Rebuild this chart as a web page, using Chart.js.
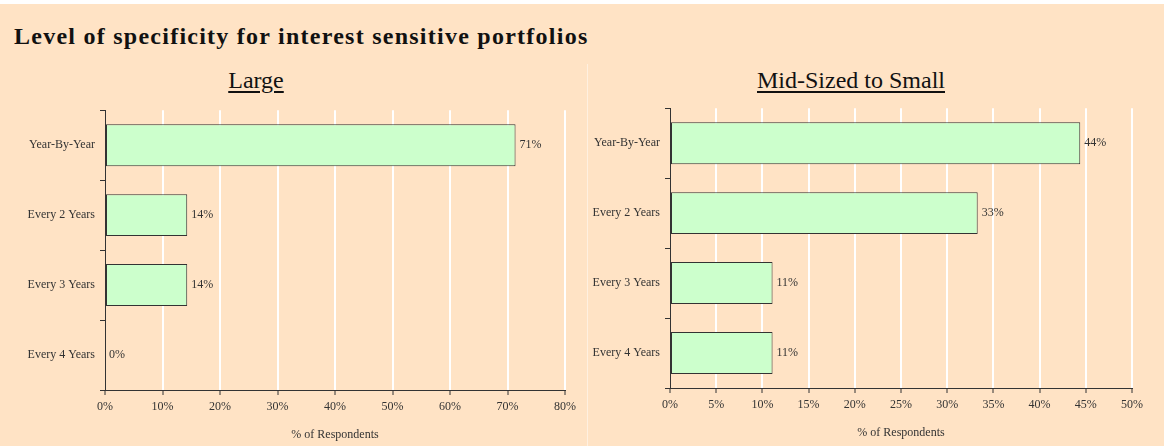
<!DOCTYPE html>
<html>
<head>
<meta charset="utf-8">
<script src="https://cdn.jsdelivr.net/npm/chart.js@4"></script>
<style>
	body { margin: 0; width: 1164px; height: 446px; background: #fff; overflow: hidden; font-family: "Liberation Serif", "DejaVu Serif", serif; }
	#page { position: absolute; left: 0; top: 4px; width: 1164px; height: 442px; background: #ffe3c5; }
	#title { position: absolute; left: 14px; top: 19px; font-size: 24px; letter-spacing: 1.25px; font-weight: bold; color: #111; white-space: nowrap; }
	.sub { position: absolute; top: 63px; font-size: 24px; color: #111; text-decoration: underline; text-underline-offset: 3px; white-space: nowrap; transform: translateX(-50%); }
	#sep { position: absolute; left: 587px; top: 60px; width: 1px; height: 382px; background: #fff0e0; }
	.box { position: absolute; height: 348px; }
</style>
</head>
<body>
<div id="page">
	<div id="title">Level of specificity for interest sensitive portfolios</div>
	<div class="sub" style="left:256px">Large</div>
	<div class="sub" style="left:851px">Mid-Sized to Small</div>
	<div id="sep"></div>
	<div class="box" style="left:0;top:94px;width:587px"><canvas id="large"></canvas></div>
	<div class="box" style="left:588px;top:92px;width:576px"><canvas id="small"></canvas></div>
</div>
<script>
const categories = ["Year-By-Year", "Every 2 Years", "Every 3 Years", "Every 4 Years"];
const largeValues = [71.4, 14.3, 14.3, 0];
const smallValues = [44.4, 33.3, 11.1, 11.1];
const largeTicks = [0, 10, 20, 30, 40, 50, 60, 70, 80];
const smallTicks = [0, 5, 10, 15, 20, 25, 30, 35, 40, 45, 50];

const font = { family: "'Liberation Serif', 'DejaVu Serif', serif", size: 12 };

// labels at the end of each bar
const barLabels = {
	id: "barLabels",
	afterDatasetsDraw(chart) {
		const ctx = chart.ctx;
		const meta = chart.getDatasetMeta(0);
		ctx.save();
		ctx.font = "12px " + font.family;
		ctx.fillStyle = "#333";
		ctx.textBaseline = "middle";
		meta.data.forEach((bar, i) => {
			const v = chart.data.datasets[0].data[i];
			ctx.fillText(Math.round(v) + "%", bar.x + 4, bar.y);
		});
		ctx.restore();
	}
};

const makeChart = (id, values, ticks, max, yWidth, padRight) => {
	return new Chart(document.getElementById(id), {
		type: "bar",
		data: {
			labels: categories,
			datasets: [{
				data: values,
				backgroundColor: "#ccffcc",
				borderColor: "#333",
				borderWidth: 1,
				borderSkipped: false,
				barPercentage: 0.6,
				categoryPercentage: 1,
			}],
		},
		options: {
			indexAxis: "y",
			responsive: true,
			maintainAspectRatio: false,
			animation: false,
			layout: { padding: { top: 0, right: padRight, bottom: 4, left: 0 } },
			plugins: { legend: { display: false }, tooltip: { enabled: false } },
			scales: {
				x: {
					min: 0,
					max: max,
					afterBuildTicks: (scale) => { scale.ticks = ticks.map(v => ({ value: v })); },
					ticks: { color: "#333", font: font, padding: 5, callback: (v) => v + "%" },
					grid: {
						color: (c) => c.tick && c.tick.value === 0 ? "rgba(0,0,0,0)" : "#fff",
						lineWidth: 2,
						tickColor: "#333",
						tickLength: 5,
						tickWidth: 1,
					},
					border: { color: "#333", width: 1 },
					title: { display: true, text: "% of Respondents", color: "#333", font: font, padding: { top: 0, bottom: 0 } },
					afterFit: (scale) => { scale.height = 52; },
				},
				y: {
					ticks: { color: "#333", font: font, padding: 5 },
					grid: { offset: true, drawOnChartArea: false, color: "#333", tickLength: 5 },
					border: { color: "#333", width: 1 },
					afterFit: (scale) => { scale.width = yWidth; },
				},
			},
		},
		plugins: [barLabels],
	});
};

makeChart("large", largeValues, largeTicks, 80, 105, 22);
makeChart("small", smallValues, smallTicks, 50, 82, 32);
</script>
</body>
</html>
